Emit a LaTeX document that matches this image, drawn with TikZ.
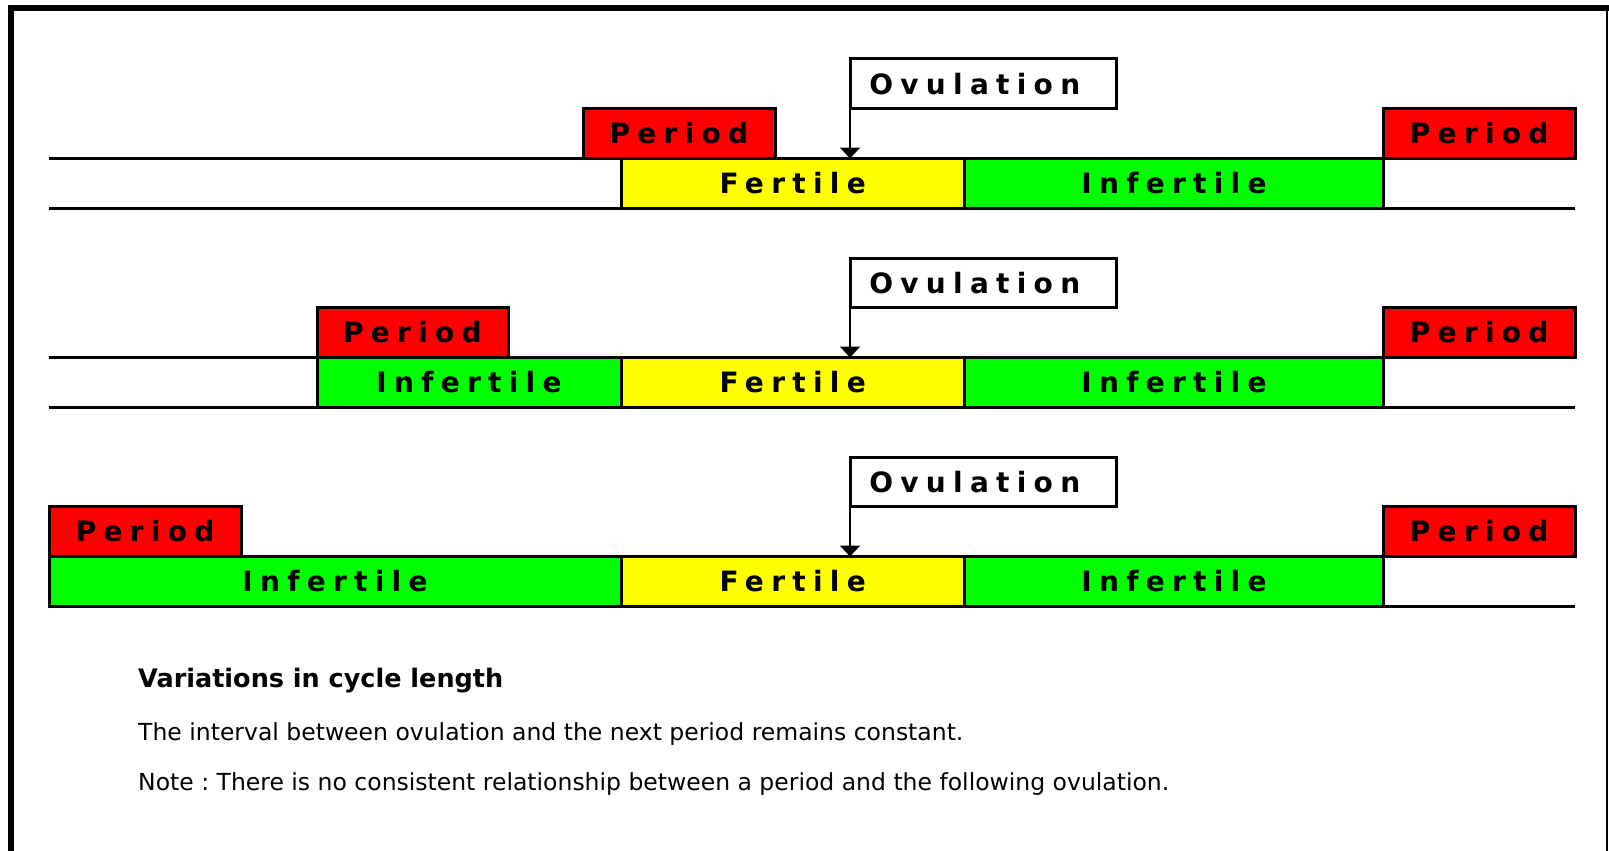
\documentclass[tikz,border=0pt]{standalone}
\usepackage{fontspec}
\usepackage{xcolor}
\usetikzlibrary{
	positioning,    % Per posizionare i nodi
	arrows.meta,    % Per la punta della freccia (Triangle)
	calc            % Per calcolare le coordinate delle linee
}
% Caratteri: etichette spaziate e testo della nota
\newfontfamily\etichetta[LetterSpace=26]{DejaVu Sans Bold}
\newfontfamily\nota{DejaVu Sans}
\newfontfamily\notabf{DejaVu Sans Bold}
% Colori delle fasi
\definecolor{rosso}{RGB}{255,0,0}
\definecolor{giallo}{RGB}{255,255,0}
\definecolor{verde}{RGB}{0,255,0}

\tikzset{
	fase/.style={draw, line width=3pt, inner sep=0pt, outer sep=0pt,
		minimum height=50pt, font=\etichetta\fontsize{28}{30}\selectfont},
	ovul/.style={fase, fill=white, minimum height=49.5pt,
		execute at end node={\hspace{17pt}}}, % testo un po' a sinistra
	linea/.style={line width=3pt},
	freccia/.style={line width=2pt, -{Triangle[width=20pt,length=11pt]}},
	testo/.style={anchor=base west, inner sep=0pt, font=\nota\fontsize{23.5}{30}\selectfont}
}

\begin{document}
\frenchspacing
\begin{tikzpicture}[x=1pt, y=-1pt]
		% Definizioni per le posizioni (in pixel)
		\def\xa{49}        % Inizio della linea del tempo
		\def\xfert{621}    % Inizio fase fertile
		\def\xinf{964.5}   % Inizio fase infertile
		\def\xper{1383.5}  % Inizio mestruazione successiva
		\def\xend{1575}    % Fine della linea del tempo
		\def\xovu{850}     % Ovulazione
		\def\xovuR{1116.5} % Bordo destro del riquadro ovulazione
		\def\dy{199}       % Distanza tra le righe
		
		\useasboundingbox (0,0) rectangle (1609,851);
		
		% --- Cornice ---
		\draw[line width=6pt] (11,851) -- (11,8) -- (1609,8);
		\draw[line width=2pt] (1607,8) -- (1607,851);
		
		% --- Righe (tre lunghezze del ciclo) ---
		\foreach \r/\xp/\xpR in {0/583/775, 1/317/508, 2/49/241.3} {
			\pgfmathsetmacro\y{108.5+\dy*\r}
			% Linea del tempo
			\coordinate (ini\r) at (\xa,\y+50);
			\coordinate (fin\r) at (\xend,\y+50);
			\draw[linea] (ini\r) -- (fin\r);
			\draw[linea] ($(ini\r)+(0,50)$) -- ($(fin\r)+(0,50)$);
			
			% Mestruazione e fase infertile iniziale
			\node[fase, fill=rosso, minimum width=\xpR-\xp] (per\r)
				at ({(\xp+\xpR)/2}, \y+25) {Period};
			\ifnum\r>0
				\node[fase, fill=verde, minimum width=\xfert-\xp] (infa\r)
					at ({(\xp+\xfert)/2}, \y+75) {Infertile};
			\fi
			
			% Fase fertile e fase infertile
			\node[fase, fill=giallo, minimum width=\xinf-\xfert] (fert\r)
				at ({(\xfert+\xinf)/2}, \y+75) {Fertile};
			\node[fase, fill=verde, minimum width=\xper-\xinf] (inf\r)
				at ({(\xinf+\xper)/2}, \y+75) {Infertile};
			% Mestruazione successiva
			\node[fase, fill=rosso, minimum width=\xend-\xper] (pern\r)
				at ({(\xper+\xend)/2}, \y+25) {Period};
			
			% Ovulazione con freccia sulla linea del tempo
			\node[ovul, minimum width=\xovuR-\xovu] (ovu\r)
				at ({(\xovu+\xovuR)/2}, \y-24.75) {Ovulation};
			\draw[freccia] (ovu\r.south west) -- (ovu\r.south west |- fert\r.north);
		}
		
		% --- Nota ---
		\node[testo, font=\notabf\fontsize{25.5}{30}\selectfont] (titolo) at (138,687)
			{Variations in cycle length};
		\node[testo] (riga1) at (138,740)
			{The interval between ovulation and the next period remains constant.};
		\node[testo] (riga2) at (138,790)
			{Note : There is no consistent relationship between a period and the following ovulation.};
	\end{tikzpicture}
\end{document}
